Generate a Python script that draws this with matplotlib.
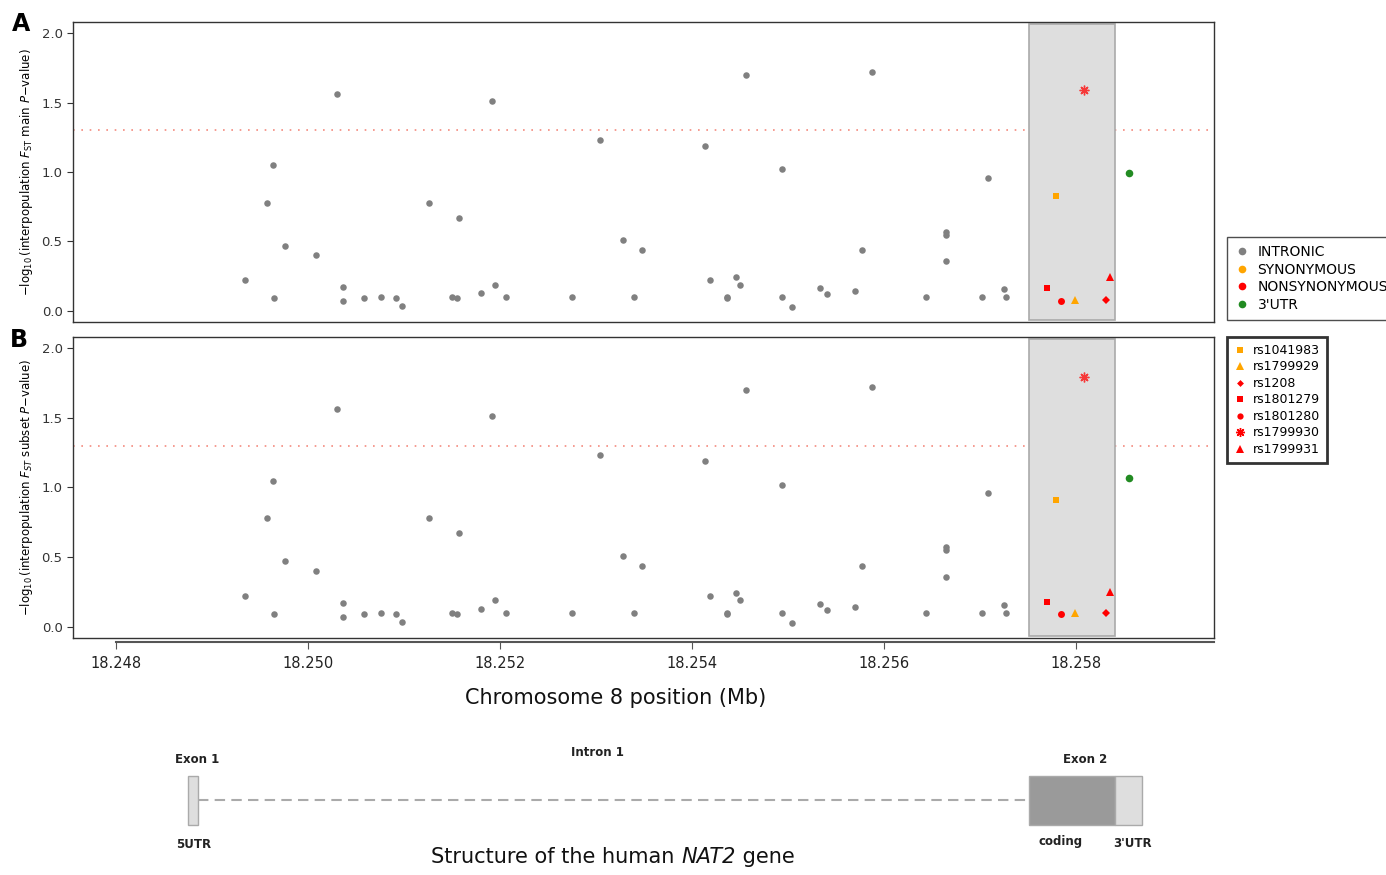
import matplotlib
matplotlib.use('Agg')
import matplotlib.pyplot as plt
from matplotlib.patches import Rectangle
from matplotlib.lines import Line2D
from matplotlib.offsetbox import TextArea, HPacker, AnchoredOffsetbox

# intronic SNPs, position (Mb) and -log10 P (same in both panels)
intron_pos = [18.24934, 18.24957, 18.24963, 18.24964, 18.24976, 18.25008,
              18.25030, 18.25036, 18.25036, 18.25058, 18.25076, 18.25092,
              18.25098, 18.25126, 18.25150, 18.25155, 18.25157, 18.25180,
              18.25192, 18.25195, 18.25206, 18.25275, 18.25304, 18.25328,
              18.25340, 18.25348, 18.25414, 18.25419, 18.25436, 18.25436,
              18.25446, 18.25450, 18.25456, 18.25494, 18.25494, 18.25504,
              18.25533, 18.25541, 18.25570, 18.25577, 18.25588, 18.25644,
              18.25665, 18.25665, 18.25665, 18.25702, 18.25709, 18.25725,
              18.25727]
intron_p = [0.22, 0.78, 1.05, 0.09, 0.47, 0.40,
            1.56, 0.17, 0.07, 0.09, 0.10, 0.09,
            0.035, 0.78, 0.10, 0.09, 0.67, 0.13,
            1.51, 0.19, 0.10, 0.10, 1.23, 0.51,
            0.10, 0.44, 1.19, 0.22, 0.10, 0.09,
            0.245, 0.19, 1.70, 1.02, 0.10, 0.03,
            0.165, 0.12, 0.145, 0.44, 1.72, 0.10,
            0.57, 0.55, 0.36, 0.10, 0.96, 0.155,
            0.10]

# coding SNPs
snp_names = ['rs1041983', 'rs1799929', 'rs1208', 'rs1801279',
             'rs1801280', 'rs1799930', 'rs1799931']
snp_pos = [18.25779, 18.25799, 18.25831, 18.25770,
           18.25785, 18.25809, 18.25836]
snp_main = [0.83, 0.08, 0.08, 0.165, 0.07, 1.59, 0.245]
snp_subset = [0.91, 0.10, 0.10, 0.18, 0.09, 1.79, 0.25]
snp_colors = ['#FFA500', '#FFA500', '#FF0000', '#FF0000',
              '#FF0000', '#FF0000', '#FF0000']
snp_markers = ['s', '^', 'D', 's', 'o', '*', '^']
snp_sizes = [5, 6, 4, 5, 5, 7, 6]

utr_pos = 18.25855
utr_main = 0.99
utr_subset = 1.07

classes = ['INTRONIC', 'SYNONYMOUS', 'NONSYNONYMOUS', "3'UTR"]
class_colors = ['#808080', '#FFA500', '#FF0000', '#228B22']

# gene structure (Mb)
exon1 = (18.24875, 18.24885)
exon2_coding = (18.25751, 18.25841)
exon2_utr = (18.25841, 18.25869)

x_lo, x_hi = 18.24755, 18.25944
sig_line = 1.30103

W, H = 1386, 875
fig = plt.figure(figsize=(W / 100, H / 100), dpi=100)

STAR = (8, 2, 0)


def fx(px):
    return px / W


def fy(py):
    return 1 - py / H


def draw_panel(ax, snp_vals, utr_val, ylab):
    ax.set_xlim(x_lo, x_hi)
    ax.set_ylim(-0.08, 2.08)
    ax.axhline(sig_line, color='#F48A7E', ls=(0, (1, 4)), lw=1.2, zorder=1)
    ax.add_patch(Rectangle((exon2_coding[0], -0.065), exon2_coding[1] - exon2_coding[0], 2.13,
                           facecolor='#DEDEDE', edgecolor='#AAAAAA', lw=1.2, zorder=2))
    ax.scatter(intron_pos, intron_p, s=22, color='#808080', lw=0, zorder=3)
    for i in range(len(snp_names)):
        mk = snp_markers[i]
        if mk == '*':
            ax.plot(snp_pos[i], snp_vals[i], marker=STAR, ms=snp_sizes[i],
                    color=snp_colors[i], mew=1.0, ls='none', zorder=4, alpha=0.75)
        else:
            ax.plot(snp_pos[i], snp_vals[i], marker=mk, ms=snp_sizes[i],
                    color=snp_colors[i], mew=0, ls='none', zorder=4)
    ax.scatter([utr_pos], [utr_val], s=30, color='#228B22', lw=0, zorder=4)
    ax.set_xticks([])
    ax.set_yticks([0.0, 0.5, 1.0, 1.5, 2.0])
    ax.set_yticklabels(['0.0', '0.5', '1.0', '1.5', '2.0'], fontsize=9.5, color='#333333')
    ax.tick_params(axis='y', direction='out', length=4, color='#333333')
    for sp in ax.spines.values():
        sp.set_color('#333333')
        sp.set_linewidth(1.0)
    ax.set_ylabel(ylab, fontsize=8.5, labelpad=5)


left, right = fx(73), fx(1214)
axA = fig.add_axes([left, fy(322), right - left, fy(22) - fy(322)])
axB = fig.add_axes([left, fy(638), right - left, fy(337) - fy(638)])
draw_panel(axA, snp_main, utr_main,
           r'$-\log_{10}$(interpopulation $F_{\rm ST}$ main $P$$-$value)')
draw_panel(axB, snp_subset, utr_subset,
           r'$-\log_{10}$(interpopulation $F_{ST}$ subset $P$$-$value)')

fig.text(fx(12), fy(31), 'A', fontsize=17, fontweight='bold')
fig.text(fx(10), fy(347), 'B', fontsize=17, fontweight='bold')

# x axis under panel B
axX = fig.add_axes([left, fy(642), right - left, 0.0001])
axX.set_xlim(x_lo, x_hi)
axX.patch.set_visible(False)
axX.set_yticks([])
for s in ['top', 'left', 'right']:
    axX.spines[s].set_visible(False)
axX.spines['bottom'].set_bounds(18.248, x_hi)
axX.spines['bottom'].set_color('#555555')
axX.spines['bottom'].set_linewidth(1.5)
xt = [18.248, 18.250, 18.252, 18.254, 18.256, 18.258]
axX.set_xticks(xt)
axX.set_xticklabels(['%.3f' % v for v in xt], fontsize=10.5, color='#222222')
axX.tick_params(axis='x', direction='out', length=5, color='#555555', pad=5)
fig.text(fx(616), fy(698), 'Chromosome 8 position (Mb)', fontsize=15,
         ha='center', va='center', color='#111111')

# legends
hand1 = [Line2D([], [], marker='o', ls='none', ms=5.5, color=c, mew=0) for c in class_colors]
leg1 = fig.legend(hand1, classes, loc='upper left', bbox_to_anchor=(fx(1227), fy(237)),
                  fontsize=10, frameon=True, fancybox=False, borderaxespad=0,
                  handlelength=1.0, handletextpad=0.6, labelspacing=0.25,
                  borderpad=0.6)
leg1.get_frame().set_edgecolor('#222222')
leg1.get_frame().set_linewidth(1.0)

hand2 = []
for i in range(len(snp_names)):
    mk = snp_markers[i]
    if mk == '*':
        mk = STAR
    hand2.append(Line2D([], [], marker=mk, ls='none', ms=snp_sizes[i] - 0.5,
                        color=snp_colors[i], mew=1.0 if mk == STAR else 0))
leg2 = fig.legend(hand2, snp_names, loc='upper left', bbox_to_anchor=(fx(1227), fy(337)),
                  fontsize=9, frameon=True, fancybox=False, borderaxespad=0,
                  handlelength=1.0, handletextpad=0.5, labelspacing=0.28,
                  borderpad=0.55)
leg2.get_frame().set_edgecolor('#000000')
leg2.get_frame().set_linewidth(2.0)

# gene structure
axG = fig.add_axes([left, 0.0, right - left, fy(740)])
axG.set_xlim(x_lo, x_hi)
axG.set_ylim(0, 1)
axG.axis('off')
g_lo, g_hi = 0.37, 0.73
axG.add_patch(Rectangle((exon1[0], g_lo), exon1[1] - exon1[0], g_hi - g_lo,
                        facecolor='#DEDEDE', edgecolor='#AAAAAA', lw=1.0))
axG.plot([exon1[1], exon2_coding[0]], [0.555, 0.555], color='#AAAAAA',
         ls=(0, (5, 3)), lw=1.5)
axG.add_patch(Rectangle((exon2_coding[0], g_lo), exon2_coding[1] - exon2_coding[0], g_hi - g_lo,
                        facecolor='#9A9A9A', edgecolor='#AAAAAA', lw=1.0))
axG.add_patch(Rectangle((exon2_utr[0], g_lo), exon2_utr[1] - exon2_utr[0], g_hi - g_lo,
                        facecolor='#DEDEDE', edgecolor='#AAAAAA', lw=1.0))
lab = dict(fontsize=8.5, fontweight='bold', ha='center', va='center', color='#222222')
axG.text(18.24884, 0.855, 'Exon 1', **lab)
axG.text(18.25301, 0.91, 'Intron 1', **lab)
axG.text(18.25810, 0.855, 'Exon 2', **lab)
axG.text(18.24881, 0.225, '5UTR', **lab)
axG.text(18.25784, 0.245, 'coding', **lab)
axG.text(18.25859, 0.23, "3'UTR", **lab)

# title of the gene sketch, gene name in italics
tp = dict(fontsize=15, color='#111111')
parts = [TextArea('Structure of the human ', textprops=tp),
         TextArea('NAT2', textprops=dict(tp, fontstyle='italic')),
         TextArea(' gene', textprops=tp)]
box = HPacker(children=parts, align='baseline', pad=0, sep=0)
anch = AnchoredOffsetbox(loc='center', child=box, pad=0, borderpad=0, frameon=False,
                         bbox_to_anchor=(fx(613), fy(857)), bbox_transform=fig.transFigure)
fig.add_artist(anch)

fig.savefig('out.png', dpi=100)
